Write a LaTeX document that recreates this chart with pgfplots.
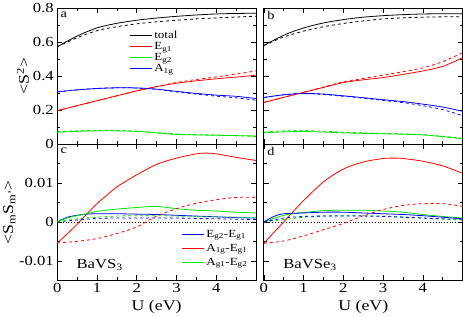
\documentclass[border=0pt]{standalone}
\usepackage{fontspec}
\setmainfont{Liberation Serif}[FakeStretch=1.2]
\usepackage{pgfplots}
\pgfplotsset{compat=1.18}
\usepgfplotslibrary{groupplots}
\definecolor{gr}{rgb}{0,0.9,0}
\begin{document}
\begin{tikzpicture}
\begin{groupplot}[
  group style={group size=2 by 2, horizontal sep=8bp, vertical sep=0bp,
    xticklabels at=edge bottom, yticklabels at=edge left},
  width=200bp, height=137bp, scale only axis,
  xmin=0, xmax=5, xtick={0,1,2,3,4}, minor xtick={0.5,1.5,2.5,3.5,4.5},
  tick align=inside, major tick length=5bp, minor tick length=3bp,
  every tick/.style={black, line width=0.6pt},
  axis line style={line width=0.8pt},
  ticklabel style={font=\fontsize{14}{14}\selectfont},
  label style={font=\fontsize{15}{15}\selectfont},
  ylabel style={yshift=-3bp},
  scaled y ticks=false,
  /pgf/number format/assume math mode=true,
  every axis plot/.append style={line width=0.8pt, smooth},
  legend cell align=left,
  legend image code/.code={\draw[#1, line width=0.9pt] (0bp,0bp) -- (22bp,0bp);},
]
% ---------- panel a
\nextgroupplot[ymin=0, ymax=0.8, ytick={0,0.2,0.4,0.6,0.8}, minor ytick={0.1,0.3,0.5,0.7},
  ylabel={<S\textsuperscript{2}>},
  yticklabel style={/pgf/number format/fixed},
  legend style={draw=none, fill=none, at={(axis cs:1.74,0.69)}, anchor=north west,
    font=\fontsize{11}{11}\selectfont, row sep=-1.5bp}]
\addplot[black] coordinates {(0,0.572)(0.5,0.635)(1,0.683)(1.5,0.71)(2,0.728)(2.5,0.741)(3,0.751)(3.5,0.759)(4,0.765)(4.5,0.768)(5,0.769)};
\addlegendentry{total}
\addplot[red] coordinates {(0,0.197)(0.5,0.226)(1,0.255)(1.5,0.284)(2,0.313)(2.5,0.338)(3,0.358)(3.5,0.372)(4,0.384)(4.5,0.394)(5,0.405)};
\addlegendentry{E\textsubscript{g1}}
\addplot[gr] coordinates {(0,0.07)(0.5,0.075)(1,0.078)(1.5,0.078)(2,0.075)(2.5,0.066)(3,0.057)(3.5,0.054)(4,0.052)(4.5,0.05)(5,0.048)};
\addlegendentry{E\textsubscript{g2}}
\addplot[blue] coordinates {(0,0.307)(0.5,0.319)(1,0.327)(1.5,0.331)(2,0.33)(2.5,0.323)(3,0.31)(3.5,0.298)(4,0.288)(4.5,0.281)(5,0.268)};
\addlegendentry{A\textsubscript{1g}}
\addplot[black, dashed, forget plot] coordinates {(0,0.572)(0.5,0.625)(1,0.667)(1.5,0.69)(2,0.707)(2.5,0.719)(3,0.728)(3.5,0.736)(4,0.742)(4.5,0.747)(5,0.752)};
\addplot[red, dashed, forget plot] coordinates {(0,0.197)(0.5,0.226)(1,0.255)(1.5,0.284)(2,0.313)(2.5,0.338)(3,0.362)(3.5,0.38)(4,0.395)(4.5,0.412)(5,0.43)};
\addplot[gr, dashed, forget plot] coordinates {(0,0.073)(0.5,0.078)(1,0.08)(1.5,0.08)(2,0.077)(2.5,0.068)(3,0.06)(3.5,0.056)(4,0.054)(4.5,0.05)(5,0.045)};
\addplot[blue, dashed, forget plot] coordinates {(0,0.307)(0.5,0.319)(1,0.327)(1.5,0.331)(2,0.33)(2.5,0.322)(3,0.307)(3.5,0.294)(4,0.282)(4.5,0.272)(5,0.258)};
\node[anchor=north west, font=\fontsize{12}{12}\selectfont] at (rel axis cs:0,1) {a};
% ---------- panel b
\nextgroupplot[ymin=0, ymax=0.8, ytick={0,0.2,0.4,0.6,0.8}, minor ytick={0.1,0.3,0.5,0.7}]
\addplot[black] coordinates {(0,0.58)(0.5,0.64)(1,0.683)(1.5,0.712)(2,0.732)(2.5,0.746)(3,0.755)(3.5,0.761)(4,0.765)(4.5,0.766)(5,0.766)};
\addplot[red] coordinates {(0,0.245)(0.5,0.275)(1,0.304)(1.5,0.333)(2,0.362)(2.5,0.378)(3,0.391)(3.5,0.41)(4,0.43)(4.5,0.457)(5,0.508)};
\addplot[gr] coordinates {(0,0.066)(0.5,0.072)(1,0.074)(1.5,0.071)(2,0.066)(2.5,0.063)(3,0.061)(3.5,0.058)(4,0.054)(4.5,0.044)(5,0.031)};
\addplot[blue] coordinates {(0,0.274)(0.5,0.29)(1,0.298)(1.5,0.294)(2,0.284)(2.5,0.273)(3,0.261)(3.5,0.25)(4,0.235)(4.5,0.218)(5,0.193)};
\addplot[black, dashed] coordinates {(0,0.58)(0.5,0.63)(1,0.664)(1.5,0.69)(2,0.709)(2.5,0.724)(3,0.736)(3.5,0.742)(4,0.746)(4.5,0.748)(5,0.749)};
\addplot[red, dashed] coordinates {(0,0.245)(0.5,0.275)(1,0.305)(1.5,0.336)(2,0.366)(2.5,0.386)(3,0.405)(3.5,0.426)(4,0.448)(4.5,0.485)(5,0.537)};
\addplot[gr, dashed] coordinates {(0,0.07)(0.5,0.078)(1,0.08)(1.5,0.076)(2,0.07)(2.5,0.066)(3,0.063)(3.5,0.06)(4,0.056)(4.5,0.046)(5,0.035)};
\addplot[blue, dashed] coordinates {(0,0.274)(0.5,0.29)(1,0.297)(1.5,0.292)(2,0.281)(2.5,0.27)(3,0.257)(3.5,0.244)(4,0.226)(4.5,0.203)(5,0.167)};
\node[anchor=north west, font=\fontsize{12}{12}\selectfont] at (rel axis cs:0,1) {b};
% ---------- panel c
\nextgroupplot[ymin=-0.015, ymax=0.02, ytick={-0.01,0,0.01}, minor ytick={-0.005,0.005,0.015},
  yticklabel style={/pgf/number format/fixed, /pgf/number format/precision=2},
  ylabel={<S\textsubscript{m}S\textsubscript{m'}>}, xlabel={U (eV)},
  legend style={draw=none, fill=none, at={(axis cs:3.05,-0.0010)}, anchor=north west,
    font=\fontsize{11}{11}\selectfont, row sep=1.5bp}]
\addplot[black, dotted, line width=0.7pt, sharp plot, forget plot] coordinates {(0,0)(5,0)};
\addplot[blue] coordinates {(0,0)(0.25,0.0012)(0.5,0.0017)(0.75,0.002)(1,0.0021)(1.5,0.0021)(2,0.002)(2.5,0.0019)(3,0.0017)(3.5,0.0015)(4,0.0013)(4.5,0.0011)(5,0.001)};
\addlegendentry{E\textsubscript{g2}-E\textsubscript{g1}}
\addplot[red] coordinates {(0,-0.0054)(0.25,-0.0031)(0.5,-0.0006)(0.75,0.0021)(1,0.0047)(1.25,0.0069)(1.5,0.009)(1.75,0.0106)(2,0.0121)(2.5,0.0148)(3,0.0164)(3.5,0.0175)(3.75,0.0177)(4,0.0175)(4.5,0.0166)(5,0.0158)};
\addlegendentry{A\textsubscript{1g}-E\textsubscript{g1}}
\addplot[gr] coordinates {(0,0)(0.25,0.001)(0.5,0.0016)(0.75,0.0021)(1,0.0027)(1.5,0.0033)(2,0.0037)(2.5,0.004)(3,0.0034)(3.5,0.003)(4,0.0028)(4.5,0.0025)(5,0.0023)};
\addlegendentry{A\textsubscript{g1}-E\textsubscript{g2}}
\addplot[blue, dashed, forget plot] coordinates {(0,0)(0.5,0.0005)(1,0.0009)(1.5,0.001)(2,0.001)(2.5,0.001)(3,0.001)(3.5,0.0009)(4,0.0008)(4.5,0.0007)(5,0.0006)};
\addplot[red, dashed, forget plot] coordinates {(0,-0.0054)(0.5,-0.005)(1,-0.0043)(1.5,-0.003)(2,-0.0013)(2.5,0.0015)(3,0.0034)(3.5,0.0048)(4,0.0057)(4.5,0.0063)(5,0.0063)};
\addplot[gr, dashed, forget plot] coordinates {(0,0)(0.5,0.0008)(1,0.0012)(1.5,0.0015)(2,0.0016)(2.5,0.0016)(3,0.0015)(3.5,0.0014)(4,0.0013)(4.5,0.0012)(5,0.0011)};
\node[anchor=north west, font=\fontsize{12}{12}\selectfont] at (rel axis cs:0,1) {c};
\node[anchor=west, font=\fontsize{14}{14}\selectfont] at (axis cs:0.4,-0.011) {BaVS\textsubscript{3}};
% ---------- panel d
\nextgroupplot[ymin=-0.015, ymax=0.02, ytick={-0.01,0,0.01}, minor ytick={-0.005,0.005,0.015},
  xlabel={U (eV)}]
\addplot[black, dotted, line width=0.7pt, sharp plot] coordinates {(0,0)(5,0)};
\addplot[red] coordinates {(0,-0.0055)(0.25,-0.0027)(0.5,0.0)(0.75,0.0028)(1,0.0055)(1.5,0.0103)(2,0.0136)(2.5,0.0154)(3,0.0163)(3.3,0.0164)(3.5,0.0163)(4,0.0156)(4.5,0.0144)(5,0.0125)};
\addplot[gr] coordinates {(0,0)(0.5,0.0017)(1,0.0024)(1.5,0.0029)(2,0.003)(2.5,0.003)(3,0.0028)(3.5,0.0025)(4,0.0019)(4.5,0.0014)(5,0.001)};
\addplot[blue] coordinates {(0,0)(0.25,0.0014)(0.5,0.0021)(1,0.0023)(1.5,0.0025)(2,0.0025)(2.5,0.0023)(3,0.0021)(3.5,0.0019)(4,0.0016)(4.5,0.0012)(5,0.0008)};
\addplot[red, dashed] coordinates {(0,-0.0055)(0.5,-0.0049)(1,-0.0036)(1.5,-0.002)(2,-0.0004)(2.5,0.0016)(3,0.0032)(3.5,0.0042)(4,0.0047)(4.5,0.0047)(5,0.004)};
\addplot[gr, dashed] coordinates {(0,0)(0.5,0.0006)(1,0.0012)(1.5,0.0015)(2,0.0016)(2.5,0.0016)(3,0.0015)(3.5,0.0013)(4,0.001)(4.5,0.0007)(5,0.0005)};
\addplot[blue, dashed] coordinates {(0,0)(0.5,0.001)(1,0.0014)(1.5,0.0015)(2,0.0015)(2.5,0.0015)(3,0.0014)(3.5,0.0012)(4,0.001)(4.5,0.0008)(5,0.0007)};
\node[anchor=north west, font=\fontsize{12}{12}\selectfont] at (rel axis cs:0,1) {d};
\node[anchor=west, font=\fontsize{14}{14}\selectfont] at (axis cs:0.4,-0.011) {BaVSe\textsubscript{3}};
\end{groupplot}
\end{tikzpicture}
\end{document}
